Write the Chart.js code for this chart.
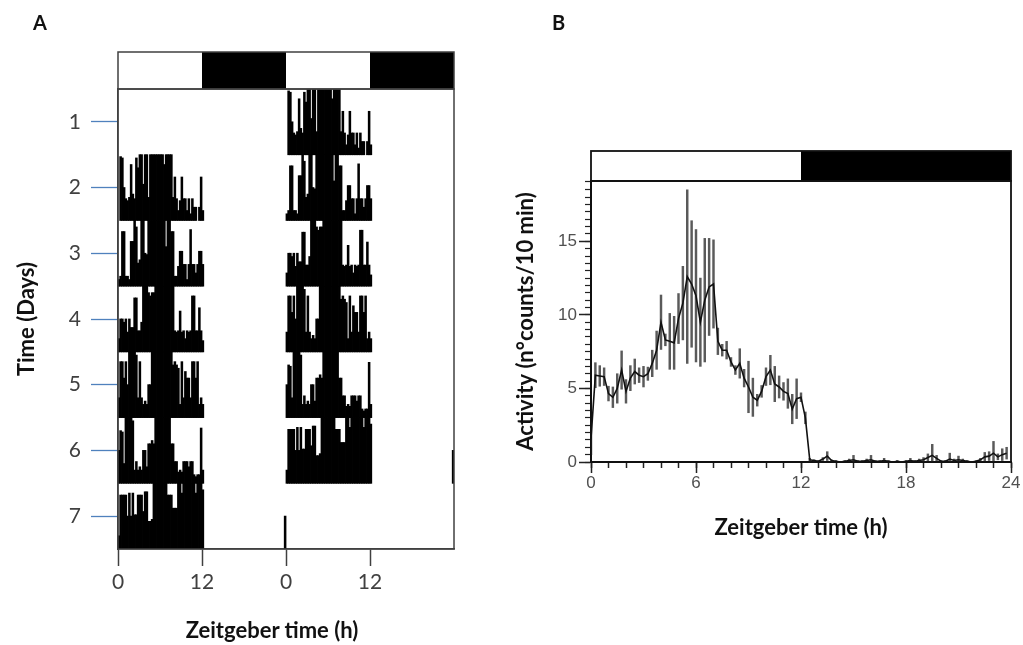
<!DOCTYPE html>
<html>
<head>
<meta charset="utf-8">
<script src="https://cdn.jsdelivr.net/npm/chart.js@4.4.1/dist/chart.umd.min.js"></script>
<style>
  body { margin: 0; background: #fff; }
  #fig { position: relative; width: 1023px; height: 645px; overflow: hidden; font-family: Lato, 'Open Sans', sans-serif; }
  canvas { position: absolute; top: 0; }
  .tag { position: absolute; font-weight: 700; font-size: 20px; color: #111; line-height: normal; }
  .xt { position: absolute; font-weight: 700; font-size: 22px; color: #111; text-align: center; line-height: normal; }
</style>
</head>
<body>
<div id="fig">
  <canvas id="chartActo" width="470" height="645" style="left:0"></canvas>
  <canvas id="chartMean" width="553" height="645" style="left:470px"></canvas>
  <div class="tag" style="left:33px;top:10px">A</div>
  <div class="tag" style="left:552px;top:10px">B</div>
  <div class="xt" style="left:152px;top:616px;width:240px">Zeitgeber time (h)</div>
</div>
<script>
// ── shared ──
const binH = 0.25   // 15-min bins, in hours

// ── A: actogram, activity per bin as fraction of the row height (ZT0 → ZT12.25) ──
const day1 = [0,0.97,0.95,0.5, 0.33,0.3,0.35,0.85, 0.4,0.33,0.95,0.8, 1,1,0.55,1, 1,0.35,1,1, 1,1,1,1, 1,1,0.85,1, 1,1,1,0.35, 0.66,0.33,0.15,0.3, 0.66,0.33,0.33,0.15, 0.33,0.1,0.33,0.2, 0.2,0,0.2,0.66, 0.15]
const day2 = [0.1,0.15,0.83,0.83, 0.15,0.15,0.1,0.68, 0.68,1,0.9,0.35, 0.4,1,1,0.5, 0.48,1,1,1, 1,1,1,1, 1,1,1,0.6, 1,1,0.83,0.83, 0.15,0.15,0.3,0.53, 0.53,0.33,0.33,0.1, 0.33,0.86,0.33,0.33, 0.2,0.33,0.53,0.53, 0.33]
const day3 = [0.2,0.5,0.5,0.45, 0.5,0.3,0.5,0.37, 0.37,0.82,0.82,0.32, 0.32,0.45,1,1, 1,0.9,0.85,0.9, 0.9,1,1,1, 1,1,1,1, 1,1,1,1, 0.32,0.3,0.32,0.62, 0.3,0.32,0.2,0.32, 0.3,0.32,0.85,0.85, 0.32,0.32,0.67,0.32, 0.17]
const day4 = [0.3,0.85,0.85,0.6, 0.85,0.5,1,1, 1,1,0.95,0.3, 0.85,0.3,0.2,0.25, 0.2,0.5,0.5,1, 1,1,1,1, 1,1,1,1, 1,1,1,0.8, 0.85,0.8,0.75,0.2, 0.85,0.3,0.7,0.6, 0.6,0.3,0.85,0.85, 0.6,0.85,0.2,0.3, 0.2]
const day5 = [0.5,0.8,0.78,0.3, 1,1,1,1, 0.95,0.2,0.33,0.2, 0.25,0.2,0.5,0.5, 0.25,0.6,0.6,0.65, 0.6,1,1,1, 1,1,1,1, 1,1,0.6,0.6, 0.33,0.33,0.17,0.2, 0.17,0.33,0.33,0.33, 0.25,0.33,0.33,0.13, 0.1,0.13,0.13,0.84, 0.2]
const day6 = [0.2,0.82,0.82,0.82, 0.82,0.5,0.85,0.5, 0.85,0.52,0.52,0.82, 0.82,0.82,0.57,0.87, 0.87,0.42,0.42,0.45, 1,1,1,1, 1,1,1,1, 0.82,0.82,0.82,0.62, 0.62,0.62,1,1, 0.85,1,1,1, 1,1,1,1, 0.85,1,1,1, 0.9]
const actoDays = [day1, day2, day3, day4, day5, day6]
// isolated bouts outside the ZT0-12 block
const nightBouts = [{ day: 6, zt: 23.875, level: 0.5 }]

const dayTicks   = [1, 2, 3, 4, 5, 6, 7]
const ztTicksA   = [0, 12, 24, 36]
const ztLabelsA  = ['0', '12', '0', '12']
const ldA        = [[0, 12, 'L'], [12, 24, 'D'], [24, 36, 'L'], [36, 48, 'D']]

// ── B: mean activity (counts / 10 min) ± SEM, one value per 15 min from ZT0 ──
const activityMean = [
  1.6, 5.9, 5.85, 5.8, 4.65, 4.4, 5.0, 6.25, 4.8, 5.7, 6.15, 5.9,
  5.8, 6.0, 6.7, 7.6, 9.5, 8.3, 8.2, 8.1, 9.75, 10.8, 12.6, 12.1,
  11.3, 9.5, 11.0, 11.9, 12.1, 8.2, 7.6, 7.6, 6.8, 6.25, 6.7, 5.7,
  5.1, 4.4, 4.2, 4.8, 5.8, 6.25, 5.3, 5.1, 4.8, 4.65, 3.6, 4.3,
  4.4, 3.0, 0.15, 0.1, 0.05, 0.2, 0.4, 0.1, 0.05, 0.0, 0.05, 0.1,
  0.15, 0.05, 0.05, 0.1, 0.15, 0.05, 0.05, 0.1, 0.05, 0.0, 0.05, 0.0,
  0.05, 0.1, 0.05, 0.1, 0.15, 0.3, 0.45, 0.25, 0.05, 0.05, 0.2, 0.1,
  0.15, 0.1, 0.05, 0.0, 0.05, 0.15, 0.35, 0.4, 0.6, 0.35, 0.5, 0.6
]
const activitySem = [
  1.1, 0.85, 0.7, 0.6, 0.5, 0.7, 1.0, 1.3, 0.8, 0.85, 0.85, 0.5,
  0.7, 0.45, 0.9, 1.3, 1.85, 0.4, 1.9, 1.8, 1.7, 2.5, 5.9, 4.3,
  4.5, 3.0, 4.2, 3.3, 3.0, 0.9, 0.4, 0.6, 0.3, 0.3, 1.0, 0.6,
  1.75, 1.3, 0.4, 0.4, 0.6, 1.0, 1.2, 0.75, 0.6, 1.0, 1.0, 1.35,
  0.3, 0.4, 0.1, 0.05, 0.05, 0.1, 0.3, 0.05, 0.05, 0, 0.05, 0.1,
  0.3, 0.05, 0.05, 0.1, 0.3, 0.05, 0.05, 0.15, 0.05, 0, 0.05, 0,
  0.05, 0.15, 0.05, 0.1, 0.15, 0.25, 0.75, 0.2, 0.05, 0.05, 0.4, 0.1,
  0.25, 0.1, 0.05, 0, 0.05, 0.1, 0.3, 0.3, 0.8, 0.2, 0.4, 0.4
]
const ztTicksB       = [0, 6, 12, 18, 24]
const activityTicksB = [0, 5, 10, 15]
const ldB            = [[0, 12, 'L'], [12, 24, 'D']]

Chart.defaults.animation = false
Chart.defaults.font.family = 'Lato'
Chart.defaults.plugins.legend.display = false
Chart.defaults.plugins.tooltip.enabled = false

// light/dark bar above the plot + frame round the plot
const ldBar = {
  id: 'ldBar',
  afterDraw(chart, args, o) {
    const { ctx, chartArea: a, scales: { x } } = chart
    ctx.save()
    o.periods.forEach(p => {
      const x0 = x.getPixelForValue(p[0]), x1 = x.getPixelForValue(p[1])
      ctx.fillStyle = p[2] === 'D' ? '#000' : '#fff'
      ctx.fillRect(x0, a.top - o.height, x1 - x0, o.height)
    })
    ctx.strokeStyle = o.color
    ctx.lineWidth = o.lineWidth
    ctx.strokeRect(a.left, a.top - o.height, a.right - a.left, o.height)
    ctx.strokeRect(a.left, a.top, a.right - a.left, a.bottom - a.top)
    ctx.restore()
  }
}

// ── Panel A ──
const actoBars = []
actoDays.forEach((vals, d) => {
  const day = d + 1
  vals.forEach((lvl, i) => {
    if (!lvl) return
    const zt = (i + 0.5) * binH
    actoBars.push({ x: zt + 24, y: [day + 0.5 - lvl, day + 0.5] })   // right half: same row
    actoBars.push({ x: zt, y: [day + 1.5 - lvl, day + 1.5] })        // left half: next row
  })
})
nightBouts.forEach(b => {
  actoBars.push({ x: b.zt + 24, y: [b.day + 0.5 - b.level, b.day + 0.5] })
  actoBars.push({ x: b.zt, y: [b.day + 1.5 - b.level, b.day + 1.5] })
})

new Chart(document.getElementById('chartActo'), {
  type: 'bar',
  data: { datasets: [{ data: actoBars, backgroundColor: '#000', barPercentage: 1, categoryPercentage: 1, inflateAmount: 0.4 }] },
  options: {
    responsive: false,
    layout: { padding: { top: 89, right: 16, left: 0, bottom: 0 } },
    scales: {
      x: {
        type: 'linear', min: 0, max: 48, offset: false,
        afterBuildTicks: s => { s.ticks = ztTicksA.map(v => ({ value: v })) },
        afterFit: s => { s.height = 96 },
        ticks: { callback: (v, i) => ztLabelsA[i], color: '#404040', font: { size: 21 }, padding: 4, maxRotation: 0 },
        grid: { offset: false, drawOnChartArea: false, tickLength: 17, color: '#404040', tickWidth: 1.5 },
        border: { color: '#404040', width: 1.5 }
      },
      y: {
        type: 'linear', reverse: true, min: 0.5, max: 7.5,
        afterBuildTicks: s => { s.ticks = dayTicks.map(v => ({ value: v })) },
        afterFit: s => { s.width = 118 },
        ticks: { color: '#404040', font: { size: 21 }, padding: 10 },
        grid: { drawOnChartArea: false, tickLength: 27, color: '#4f81bd', tickWidth: 1.3 },
        border: { color: '#404040', width: 1.5 },
        title: { display: true, text: 'Time (Days)', color: '#111', font: { size: 22, weight: 'bold' }, padding: { top: 14 } }
      }
    },
    plugins: { ldBar: { periods: ldA, height: 37, color: '#404040', lineWidth: 1.5 } }
  },
  plugins: [ldBar]
})

// ── Panel B ──
new Chart(document.getElementById('chartMean'), {
  type: 'bar',
  data: {
    datasets: [
      {
        type: 'line', order: 0,
        data: activityMean.map((v, i) => ({ x: i * binH, y: v })),
        borderColor: '#111', borderWidth: 1.6, pointRadius: 0, tension: 0
      },
      {
        type: 'bar', order: 1,
        data: activityMean.map((v, i) => ({ x: i * binH, y: [v - activitySem[i], v + activitySem[i]] })),
        backgroundColor: '#5a5a5a', barThickness: 1.8
      }
    ]
  },
  options: {
    responsive: false,
    layout: { padding: { top: 181, right: 12, left: 0, bottom: 0 } },
    scales: {
      x: {
        type: 'linear', min: 0, max: 24, offset: false, weight: 1,
        afterBuildTicks: s => { s.ticks = ztTicksB.map(v => ({ value: v })) },
        afterFit: s => { s.height = 183 },
        ticks: { color: '#505050', font: { family: 'Liberation Sans', size: 17 }, padding: 0, maxRotation: 0 },
        grid: { offset: false, drawOnChartArea: false, tickLength: 11, color: '#222', tickWidth: 1.5 },
        border: { color: '#111', width: 2 },
        title: { display: true, text: 'Zeitgeber time (h)', color: '#111', font: { size: 22, weight: 'bold' }, padding: { bottom: 104 } }
      },
      x2: {
        type: 'linear', position: 'bottom', min: 0, max: 24, offset: false, weight: 0,
        ticks: { display: false, stepSize: 1 },
        afterFit: s => { s.height = 0 },
        grid: { offset: false, drawOnChartArea: false, tickLength: 6, color: '#222', tickWidth: 1.5 },
        border: { display: false }
      },
      y: {
        type: 'linear', min: 0, max: 19.1, weight: 1,
        afterBuildTicks: s => { s.ticks = activityTicksB.map(v => ({ value: v })) },
        afterFit: s => { s.width = 121 },
        ticks: { color: '#505050', font: { family: 'Liberation Sans', size: 17 }, padding: 2 },
        grid: { drawOnChartArea: false, tickLength: 12, color: '#222', tickWidth: 1.5 },
        border: { color: '#111', width: 2 },
        title: { display: true, text: 'Activity (n°counts/10 min)', color: '#111', font: { size: 22, weight: 'bold' }, padding: { top: 43 } }
      },
      y2: {
        type: 'linear', position: 'left', min: 0, max: 19.1, weight: 0,
        ticks: { display: false, stepSize: 0.5 },
        afterFit: s => { s.width = 0 },
        grid: { drawOnChartArea: false, tickLength: 6, color: '#222', tickWidth: 1.2 },
        border: { display: false }
      }
    },
    plugins: { ldBar: { periods: ldB, height: 30, color: '#111', lineWidth: 1.8 } }
  },
  plugins: [ldBar]
})
</script>
</body>
</html>
